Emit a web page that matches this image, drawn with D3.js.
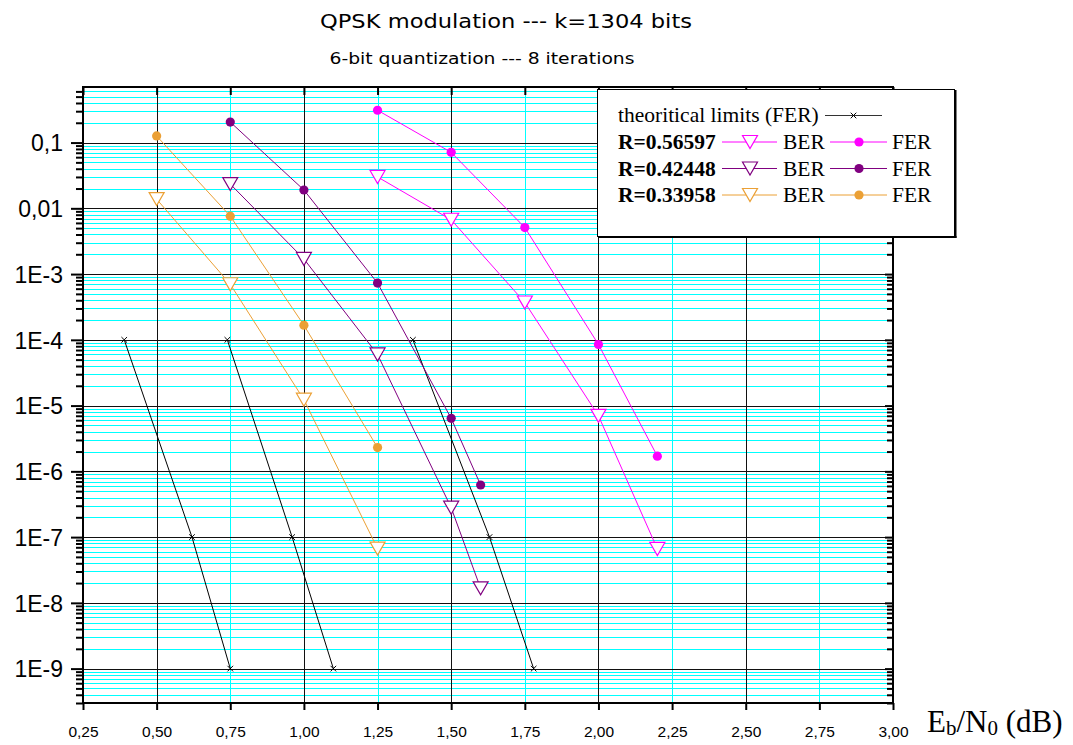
<!DOCTYPE html>
<html>
<head>
<meta charset="utf-8">
<script src="https://cdn.jsdelivr.net/npm/d3@7"></script>
<style>
  html, body { margin: 0; padding: 0; background: #fff; }
  svg { display: block; }
</style>
</head>
<body>
<svg id="chart" width="1073" height="745"></svg>
<script>
// ---------------- data ----------------
const xTicks = [0.25, 0.5, 0.75, 1.0, 1.25, 1.5, 1.75, 2.0, 2.25, 2.5, 2.75, 3.0];
const xTickLabels = ["0,25","0,50","0,75","1,00","1,25","1,50","1,75","2,00","2,25","2,50","2,75","3,00"];
const yTicks = [1e-1, 1e-2, 1e-3, 1e-4, 1e-5, 1e-6, 1e-7, 1e-8, 1e-9];
const yTickLabels = ["0,1","0,01","1E-3","1E-4","1E-5","1E-6","1E-7","1E-8","1E-9"];

// theoretical limits (FER)
const limitFER = [1e-4, 1e-7, 1e-9];
const limitA_x = [0.39, 0.62, 0.75];
const limitB_x = [0.74, 0.96, 1.10];
const limitC_x = [1.37, 1.63, 1.78];

// R = 0.56597
const ebn0_R1 = [1.25, 1.50, 1.75, 2.00, 2.20];
const ber_R1  = [0.030, 0.0067, 3.7e-4, 7.0e-6, 6.6e-8];
const fer_R1  = [0.31, 0.071, 0.0051, 8.5e-5, 1.7e-6];
// R = 0.42448
const ebn0_R2 = [0.75, 1.00, 1.25, 1.50, 1.60];
const ber_R2  = [0.0234, 1.7e-3, 6.0e-5, 2.8e-7, 1.66e-8];
const fer_R2  = [0.205, 0.019, 7.3e-4, 6.4e-6, 6.2e-7];
// R = 0.33958
const ebn0_R3 = [0.50, 0.75, 1.00, 1.25];
const ber_R3  = [0.0138, 7.0e-4, 1.23e-5, 6.7e-8];
const fer_R3  = [0.126, 7.6e-3, 1.67e-4, 2.3e-6];

const rateLabels = ["R=0.56597", "R=0.42448", "R=0.33958"];
const rateColors = ["#ff00ff", "#800080", "#eba035"];

// ---------------- layout ----------------
const L = 83, R = 893, T = 87, B = 703;
const svg = d3.select("#chart");
const x = d3.scaleLinear().domain([0.25, 3.0]).range([L, R]);
const y = d3.scaleLog().domain([3e-10, 0.7]).range([B, T]);
const px = v => Math.round(v) + 0.5;

svg.append("rect").attr("x", 0).attr("y", 0).attr("width", 1073).attr("height", 745).attr("fill", "#fff");

const minorY = [];
for (let e = -10; e <= -1; e++) {
  for (let k = 2; k <= 9; k++) {
    const v = k * Math.pow(10, e);
    if (v >= 3e-10 && v <= 0.7) minorY.push(v);
  }
}

const grid = svg.append("g");
grid.selectAll("line.hmin").data(minorY).enter().append("line")
  .attr("x1", L).attr("x2", R)
  .attr("y1", d => px(y(d))).attr("y2", d => px(y(d)))
  .attr("stroke", "#00ffff").attr("stroke-width", 1);
const xCyan = [0.75, 1.25, 1.75, 2.25, 2.75];
const xBlack = [0.5, 1.0, 1.5, 2.0, 2.5];
grid.selectAll("line.vmin").data(xCyan).enter().append("line")
  .attr("x1", d => px(x(d))).attr("x2", d => px(x(d)))
  .attr("y1", T).attr("y2", B)
  .attr("stroke", "#00ffff").attr("stroke-width", 1);
grid.selectAll("line.hmaj").data(yTicks).enter().append("line")
  .attr("x1", L).attr("x2", R)
  .attr("y1", d => px(y(d))).attr("y2", d => px(y(d)))
  .attr("stroke", "#111").attr("stroke-width", 1);
grid.selectAll("line.vmaj").data(xBlack).enter().append("line")
  .attr("x1", d => px(x(d))).attr("x2", d => px(x(d)))
  .attr("y1", T).attr("y2", B)
  .attr("stroke", "#111").attr("stroke-width", 1);

// ---------------- axes ----------------
const axes = svg.append("g");
const fmtX = (d, i) => xTickLabels[i];
const bottomAxis = d3.axisBottom(x).tickValues(xTicks).tickSize(7).tickFormat(fmtX);
const gb = axes.append("g").attr("transform", `translate(0,${B})`).call(bottomAxis);
gb.select(".domain").remove();
gb.selectAll(".tick line").attr("stroke", "#000").attr("stroke-width", 2);
gb.selectAll(".tick text").attr("font-family", "Liberation Sans, Arial, sans-serif")
  .attr("font-size", "15.5px").attr("fill", "#000").attr("y", 29).attr("dy", "0.35em");
const topAxis = d3.axisTop(x).tickValues(xTicks).tickSize(-8).tickFormat("");
const gt = axes.append("g").attr("transform", `translate(0,${T})`).call(topAxis);
gt.select(".domain").remove();
gt.selectAll(".tick line").attr("stroke", "#000").attr("stroke-width", 2);

const leftAxis = d3.axisLeft(y).tickValues(yTicks).tickSize(12).tickFormat((d, i) => yTickLabels[i]);
const gl = axes.append("g").attr("transform", `translate(${L},0)`).call(leftAxis);
gl.select(".domain").remove();
gl.selectAll(".tick line").attr("stroke", "#000").attr("stroke-width", 2);
gl.selectAll(".tick text").attr("font-family", "Liberation Sans, Arial, sans-serif")
  .attr("font-size", "23px").attr("fill", "#000").attr("x", -20).attr("dy", "0.36em");
const leftMinor = d3.axisLeft(y).tickValues(minorY).tickSize(7).tickFormat("");
const glm = axes.append("g").attr("transform", `translate(${L},0)`).call(leftMinor);
glm.select(".domain").remove();
glm.selectAll(".tick line").attr("stroke", "#000").attr("stroke-width", 2);
const rightAxis = d3.axisRight(y).tickValues(yTicks).tickSize(-8).tickFormat("");
const gr = axes.append("g").attr("transform", `translate(${R},0)`).call(rightAxis);
gr.select(".domain").remove();
gr.selectAll(".tick line").attr("stroke", "#000").attr("stroke-width", 2);
const rightMinor = d3.axisRight(y).tickValues(minorY).tickSize(-6).tickFormat("");
const grm = axes.append("g").attr("transform", `translate(${R},0)`).call(rightMinor);
grm.select(".domain").remove();
grm.selectAll(".tick line").attr("stroke", "#000").attr("stroke-width", 2);

axes.append("rect").attr("x", L).attr("y", T).attr("width", R - L).attr("height", B - T)
  .attr("fill", "none").attr("stroke", "#000").attr("stroke-width", 2);

// ---------------- data drawing ----------------
const plot = svg.append("g");
const line = d3.line().x(d => x(d[0])).y(d => y(d[1]));
const zip = (xs, ys) => xs.map((v, i) => [v, ys[i]]);

function crossPath(cx, cy, s) {
  return `M${cx - s},${cy - s}L${cx + s},${cy + s}M${cx - s},${cy + s}L${cx + s},${cy - s}`;
}
function triPath(cx, cy) {
  return `M${cx - 7.5},${cy - 6.5}L${cx + 7.5},${cy - 6.5}L${cx},${cy + 6.5}Z`;
}

[limitA_x, limitB_x, limitC_x].forEach(xs => {
  const pts = zip(xs, limitFER);
  plot.append("path").attr("d", line(pts)).attr("fill", "none").attr("stroke", "#000").attr("stroke-width", 1);
  plot.selectAll(null).data(pts).enter().append("path")
    .attr("d", d => crossPath(x(d[0]), y(d[1]), 2.8))
    .attr("stroke", "#000").attr("stroke-width", 1).attr("fill", "none");
});

const series = [
  { xs: ebn0_R1, ber: ber_R1, fer: fer_R1, color: rateColors[0] },
  { xs: ebn0_R2, ber: ber_R2, fer: fer_R2, color: rateColors[1] },
  { xs: ebn0_R3, ber: ber_R3, fer: fer_R3, color: rateColors[2] }
];
series.forEach(s => {
  const bp = zip(s.xs, s.ber), fp = zip(s.xs, s.fer);
  plot.append("path").attr("d", line(bp)).attr("fill", "none").attr("stroke", s.color).attr("stroke-width", 1);
  plot.append("path").attr("d", line(fp)).attr("fill", "none").attr("stroke", s.color).attr("stroke-width", 1);
  plot.selectAll(null).data(bp).enter().append("path")
    .attr("d", d => triPath(x(d[0]), y(d[1])))
    .attr("fill", "#fff").attr("stroke", s.color).attr("stroke-width", 1.2);
  plot.selectAll(null).data(fp).enter().append("circle")
    .attr("cx", d => x(d[0])).attr("cy", d => y(d[1])).attr("r", 4.6)
    .attr("fill", s.color);
});

// ---------------- legend ----------------
const lg = svg.append("g");
lg.append("rect").attr("x", 597.5).attr("y", 89.5).attr("width", 357).attr("height", 147)
  .attr("fill", "#fff").attr("stroke", "#000").attr("stroke-width", 1);
lg.append("line").attr("x1", 955.5).attr("x2", 955.5).attr("y1", 90).attr("y2", 238).attr("stroke", "#000").attr("stroke-width", 2);
lg.append("line").attr("x1", 598).attr("x2", 956.5).attr("y1", 237).attr("y2", 237).attr("stroke", "#000").attr("stroke-width", 2);

const serif = "Liberation Serif, Times New Roman, serif";
lg.append("text").attr("x", 618).attr("y", 122).attr("font-family", serif).attr("font-size", "21.5px")
  .attr("fill", "#000").text("theoritical limits (FER)");
lg.append("line").attr("x1", 825).attr("x2", 882).attr("y1", 115.5).attr("y2", 115.5).attr("stroke", "#333").attr("stroke-width", 1);
lg.append("path").attr("d", crossPath(853.5, 115.5, 2.8)).attr("stroke", "#000").attr("stroke-width", 1);

const rowY = [142, 168.5, 195];
rateLabels.forEach((lab, i) => {
  const cy = rowY[i], c = rateColors[i];
  lg.append("text").attr("x", 618).attr("y", cy + 7).attr("font-family", serif).attr("font-weight", "bold")
    .attr("font-size", "21.5px").attr("fill", "#000").text(lab);
  lg.append("line").attr("x1", 722).attr("x2", 777).attr("y1", cy).attr("y2", cy).attr("stroke", c).attr("stroke-width", 1);
  lg.append("path").attr("d", triPath(750, cy)).attr("fill", "#fff").attr("stroke", c).attr("stroke-width", 1.2);
  lg.append("text").attr("x", 783).attr("y", cy + 7).attr("font-family", serif)
    .attr("font-size", "21.5px").attr("fill", "#000").text("BER");
  lg.append("line").attr("x1", 830).attr("x2", 887).attr("y1", cy).attr("y2", cy).attr("stroke", c).attr("stroke-width", 1);
  lg.append("circle").attr("cx", 859).attr("cy", cy).attr("r", 4.6).attr("fill", c);
  lg.append("text").attr("x", 892).attr("y", cy + 7).attr("font-family", serif)
    .attr("font-size", "21.5px").attr("fill", "#000").text("FER");
});

// ---------------- titles ----------------
svg.append("text").attr("x", 506).attr("y", 28).attr("text-anchor", "middle")
  .attr("font-family", "DejaVu Sans, sans-serif").attr("font-size", "20px").attr("fill", "#000")
  .attr("textLength", 372).attr("lengthAdjust", "spacingAndGlyphs")
  .text("QPSK modulation --- k=1304 bits");
svg.append("text").attr("x", 482).attr("y", 64).attr("text-anchor", "middle")
  .attr("font-family", "DejaVu Sans, sans-serif").attr("font-size", "16px").attr("fill", "#000")
  .attr("textLength", 305).attr("lengthAdjust", "spacingAndGlyphs")
  .text("6-bit quantization --- 8 iterations");

const xt = svg.append("text").attr("x", 927).attr("y", 732).attr("font-family", serif)
  .attr("font-size", "31px").attr("fill", "#000");
xt.append("tspan").text("E");
xt.append("tspan").attr("font-size", "21px").attr("dy", 3).text("b");
xt.append("tspan").attr("dy", -3).text("/N");
xt.append("tspan").attr("font-size", "21px").attr("dy", 3).text("0");
xt.append("tspan").attr("dy", -3).text(" (dB)");
</script>
</body>
</html>
